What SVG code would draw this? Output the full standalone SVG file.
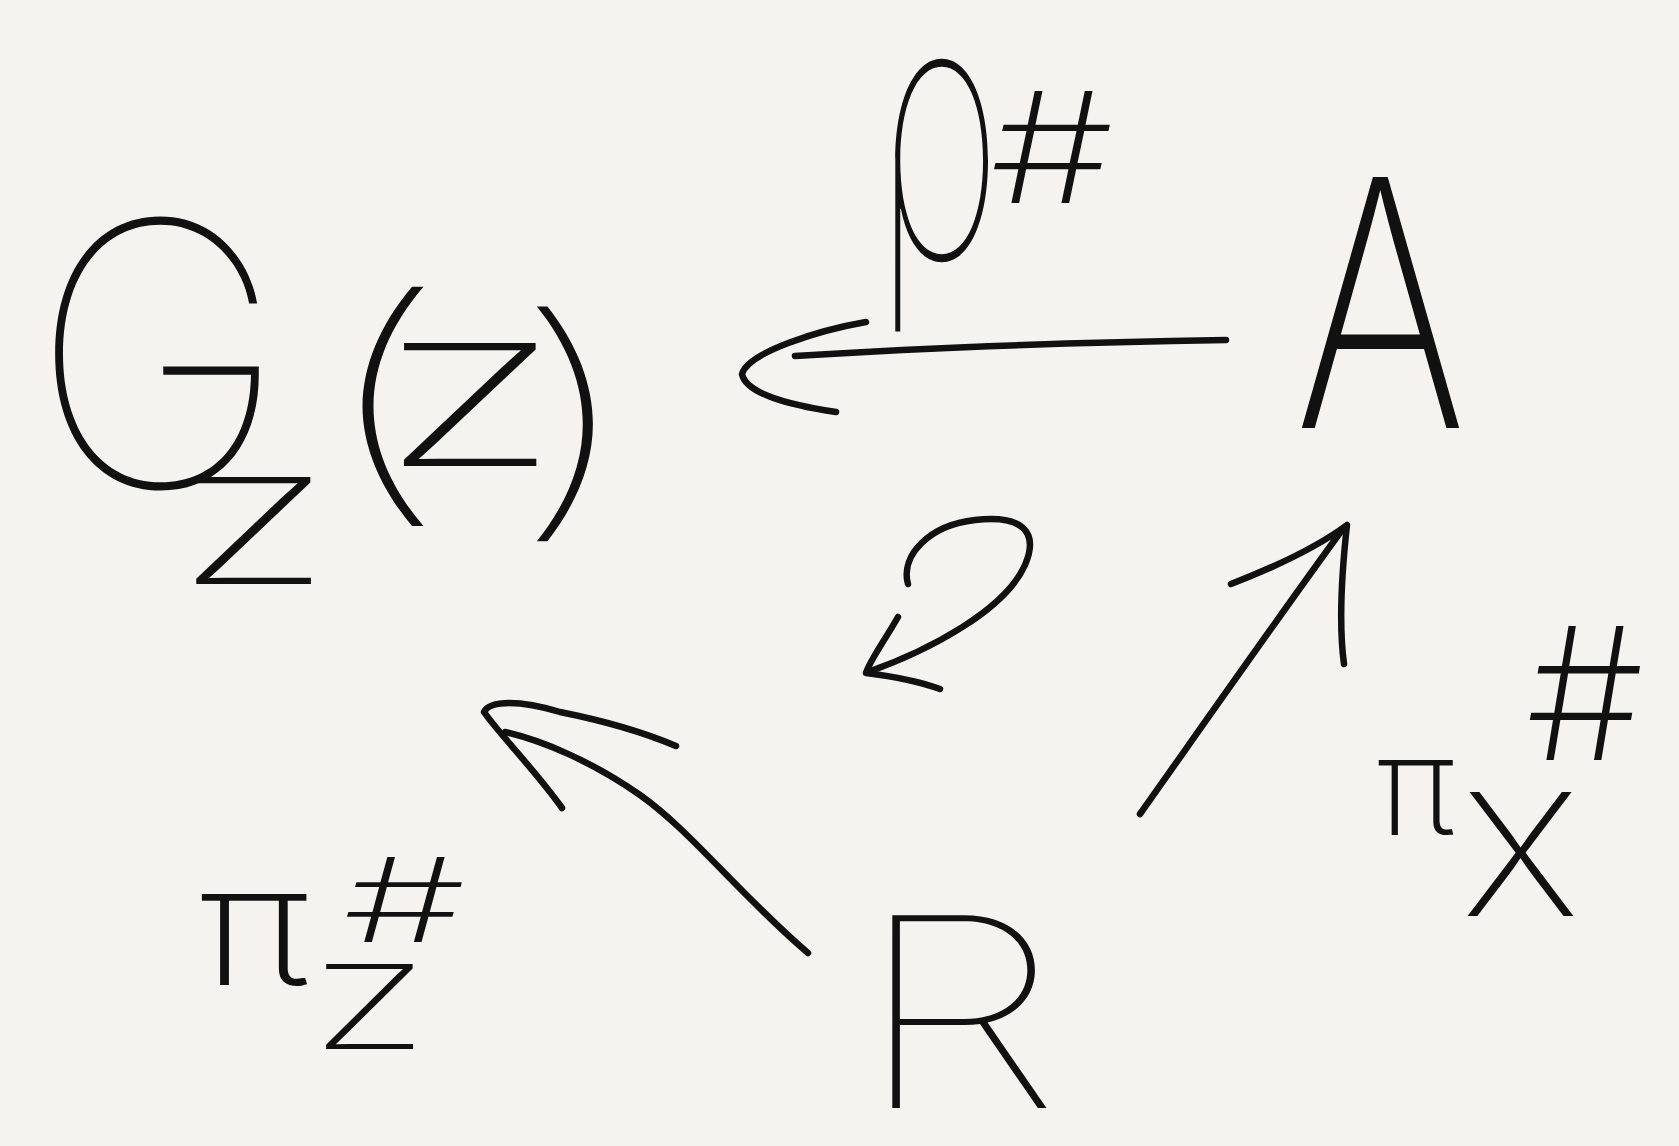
<svg xmlns="http://www.w3.org/2000/svg" width="1679" height="1146" viewBox="0 0 1679 1146">
<style>
.t{font-family:Inter,"Noto Sans","DejaVu Sans",sans-serif;font-weight:200;fill:#111}
.thin{font-weight:100}
.c{fill:none;stroke:#111;stroke-width:6.5;stroke-linecap:round;stroke-linejoin:round}
</style>
<rect width="1679" height="1146" fill="#f4f3ef"/>
<g id="node-GZZ">
<text class="t"><tspan class="thin" x="30" y="487" font-size="367" textLength="257" lengthAdjust="spacingAndGlyphs">G</tspan><tspan x="179" y="584" font-size="147" textLength="149" lengthAdjust="spacingAndGlyphs">Z</tspan><tspan class="thin" x="308" y="490" font-size="263" textLength="148" lengthAdjust="spacingAndGlyphs">(</tspan><tspan x="384" y="466" font-size="169" textLength="172" lengthAdjust="spacingAndGlyphs">Z</tspan><tspan class="thin" x="507" y="506" font-size="258" textLength="136" lengthAdjust="spacingAndGlyphs">)</tspan></text>
</g>
<g id="node-A">
<text class="t" x="1294" y="428" font-size="345" textLength="173" lengthAdjust="spacingAndGlyphs">A</text>
</g>
<g id="node-R">
<text class="t thin" x="854" y="1108" font-size="265" textLength="208" lengthAdjust="spacingAndGlyphs">R</text>
</g>
<g id="connectors">
<g id="edge-A-GZZ">
<path class="c" d="M1226,340 C1100,342 950,346 795,356"/>
<path class="c" d="M866,322 C820,330 748,352 742,374 C746,394 790,405 836,412"/>
</g>
<g id="edge-R-A">
<path class="c" d="M1140,814 C1210,715 1280,615 1342,530"/>
<path class="c" d="M1231,584 C1280,565 1320,545 1347,525 C1342,570 1338,620 1344,664"/>
</g>
<g id="edge-R-GZZ">
<path class="c" d="M808,953 C740,895 690,830 640,795 C590,760 540,740 505,732"/>
<path class="c" d="M562,808 C535,770 500,735 484,712 C490,700 520,700 560,712 C610,722 650,735 676,746"/>
</g>
<g id="two-cell">
<path class="c" d="M908,584 C900,555 930,525 975,520 C1020,515 1040,530 1025,565 C1005,610 930,650 868,672"/>
<path class="c" d="M898,617 C885,640 870,660 866,673 C890,676 915,680 940,689"/>
</g>
</g>
<g id="labels">
<g id="label-rho">
<text class="t" transform="scale(1,1.2)"><tspan class="thin" x="874" y="215" font-size="300" textLength="128" lengthAdjust="spacingAndGlyphs">ρ</tspan><tspan x="990" y="169" font-size="128" textLength="124" lengthAdjust="spacingAndGlyphs">#</tspan></text>
</g>
<g id="label-piX">
<text class="t"><tspan x="1376" y="835" font-size="137" textLength="80" lengthAdjust="spacingAndGlyphs">π</tspan><tspan x="1462" y="916" font-size="170" textLength="117" lengthAdjust="spacingAndGlyphs">X</tspan><tspan x="1526" y="760" font-size="184" textLength="118" lengthAdjust="spacingAndGlyphs">#</tspan></text>
</g>
<g id="label-piZ">
<text class="t"><tspan x="198" y="985" font-size="167" textLength="113" lengthAdjust="spacingAndGlyphs">π</tspan><tspan x="343" y="942" font-size="117" textLength="123" lengthAdjust="spacingAndGlyphs">#</tspan><tspan x="313" y="1049" font-size="117" textLength="113" lengthAdjust="spacingAndGlyphs">Z</tspan></text>
</g>
</g>
</svg>
